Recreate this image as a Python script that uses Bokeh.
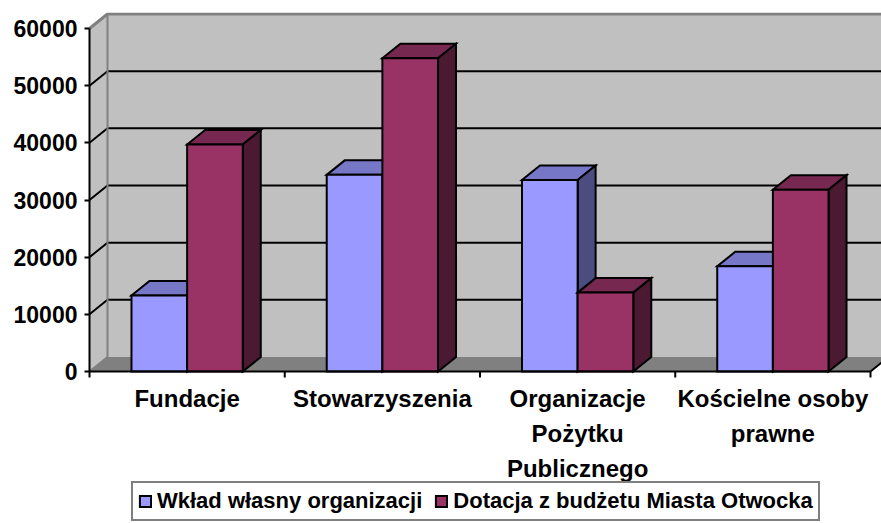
from bokeh.plotting import figure
from bokeh.models import Range1d, FixedTicker, Legend, LegendItem
from bokeh.core.properties import value
from bokeh.embed import file_html
from bokeh.resources import INLINE

# ---- data ----
categories = ["Fundacje", "Stowarzyszenia", "Organizacje\nPożytku\nPublicznego", "Kościelne osoby\nprawne"]
wklad = [13300, 34400, 33500, 18400]
dotacja = [39700, 54800, 13800, 31800]
y_ticks = [0, 10000, 20000, 30000, 40000, 50000, 60000]
series_names = ["Wkład własny organizacji", "Dotacja z budżetu Miasta Otwocka"]

# ---- geometry ----
W, H = 881, 523
PX_CAT = 195.25                 # pixels per category
Y_MAX = 60000
PX_Y = 343.0 / Y_MAX            # pixels per value unit
frame_left, frame_top, zero_px = 87, 12, 371
x0 = -2 / PX_CAT
x1 = x0 + (W - frame_left) / PX_CAT
y1 = (zero_px - frame_top) / PX_Y
y0 = -(H - zero_px) / PX_Y
DX = 18 / PX_CAT
DY = 14.5 / PX_Y
BW = 0.285
XW = x1 + 1
n = len(categories)

p = figure(width=W, height=H, output_backend="svg", toolbar_location=None,
           x_range=Range1d(x0, x1), y_range=Range1d(y0, y1),
           min_border_left=frame_left, min_border_right=0,
           min_border_top=frame_top, min_border_bottom=0,
           background_fill_color="white", border_fill_color="white")
p.outline_line_color = None
p.grid.visible = False
p.xaxis.visible = False

GRAY = "#C0C0C0"
DGRAY = "#808080"

# walls
p.patch([0, DX, DX, 0], [0, DY, Y_MAX + DY, Y_MAX], fill_color=GRAY, line_color=None)
p.patch([DX, XW, XW, DX], [DY, DY, Y_MAX + DY, Y_MAX + DY], fill_color=GRAY, line_color=None)
# floor
p.patch([0, n, n + DX, DX], [0, 0, DY, DY], fill_color=DGRAY, line_color=None)
p.line([n, n + DX], [0, DY], line_color="black", line_width=2)
# gridlines
for v in y_ticks[1:-1]:
    p.line([0, DX, XW], [v, v + DY, v + DY], line_color="black", line_width=2)
# wall borders
p.line([0, DX, XW], [Y_MAX, Y_MAX + DY, Y_MAX + DY], line_color=DGRAY, line_width=3)
p.line([DX, DX], [DY, Y_MAX + DY], line_color=DGRAY, line_width=2)
p.line([0, DX], [0, DY], line_color=DGRAY, line_width=2)
# value axis line
p.line([0, 0], [0, Y_MAX], line_color="black", line_width=2)


def bars(offset, values, front, top, side):
    lefts = [i + 0.5 + offset for i in range(n)]
    rights = [l + BW for l in lefts]
    p.patches([[l, r, r + DX, l + DX] for l, r in zip(lefts, rights)],
              [[v, v, v + DY, v + DY] for v in values],
              fill_color=top, line_color="black", line_width=2, line_join="miter")
    p.patches([[r, r + DX, r + DX, r] for r in rights],
              [[0, DY, v + DY, v] for v in values],
              fill_color=side, line_color="black", line_width=2, line_join="miter")
    return p.vbar(x=[l + BW / 2 for l in lefts], width=BW, top=values, bottom=0,
                  fill_color=front, line_color="black", line_width=2, line_join="miter")


r1 = bars(-BW, wklad, "#9999FF", "#7777C7", "#4C4C80")
r2 = bars(0.0, dotacja, "#993366", "#772850", "#4C1933")

FONT = "Liberation Sans"

# category axis (drawn in data space below zero)
p.line([0, n], [0, 0], line_color="black", line_width=2)
p.segment(x0=list(range(n + 1)), y0=[0] * (n + 1), x1=list(range(n + 1)),
          y1=[-6 / PX_Y] * (n + 1), line_color="black", line_width=2)
p.text(x=[i + 0.5 for i in range(n)], y=[-13 / PX_Y] * n, text=categories,
       text_align="center", text_baseline="top", text_font=value(FONT),
       text_font_style="bold", text_font_size="24px", text_line_height=1.3,
       text_color="black")

# y axis
ya = p.yaxis[0]
ya.ticker = FixedTicker(ticks=y_ticks)
ya.axis_line_color = None
ya.major_tick_out = 3
ya.major_tick_in = 2
ya.major_tick_line_width = 2
ya.major_tick_line_color = "black"
ya.minor_tick_line_color = None
ya.major_label_standoff = 7
ya.major_label_text_font = FONT
ya.major_label_text_font_style = "bold"
ya.major_label_text_font_size = "23px"
ya.major_label_text_color = "black"

legend = Legend(items=[LegendItem(label=series_names[0], renderers=[r1]),
                       LegendItem(label=series_names[1], renderers=[r2])],
                orientation="horizontal", location=(44, 2),
                border_line_color="black", border_line_width=2,
                background_fill_color="white", background_fill_alpha=1,
                label_text_font=FONT, label_text_font_style="bold",
                label_text_font_size="22px", label_text_color="black",
                glyph_width=14, glyph_height=14, label_standoff=5,
                spacing=12, padding=5, margin=0)
p.add_layout(legend, "center")

open("out.html", "w").write(file_html(p, INLINE))
